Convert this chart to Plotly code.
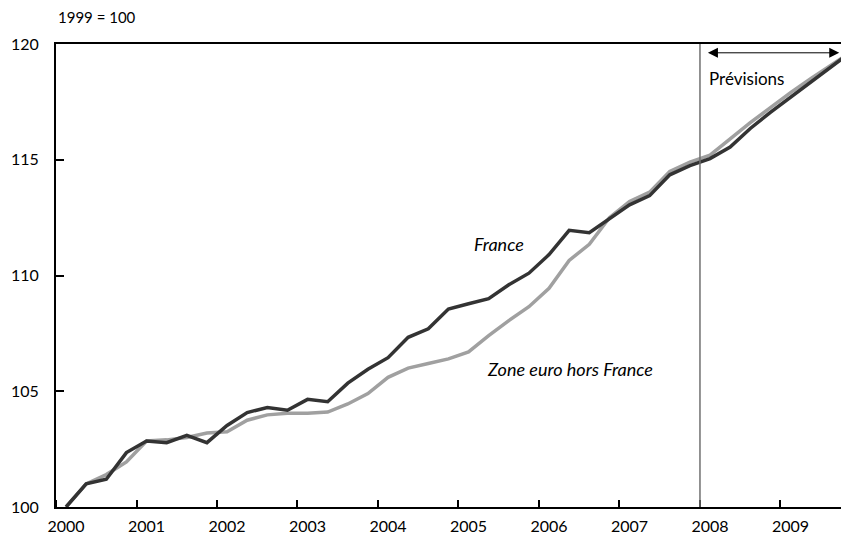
import plotly.graph_objects as go

# quarterly index, 1999 = 100
years = list(range(2000, 2010))
quarters = [0.125, 0.375, 0.625, 0.875]

france = [100.0, 101.0, 101.2, 102.35, 102.85, 102.78, 103.1, 102.78, 103.52, 104.08,
          104.3, 104.18, 104.65, 104.55, 105.35, 105.95, 106.45, 107.33, 107.7, 108.55,
          108.78, 109.0, 109.6, 110.1, 110.9, 111.95, 111.85, 112.45, 113.05, 113.45,
          114.35, 114.75, 115.05, 115.55, 116.35, 117.05, 117.7, 118.35, 119.0, 119.65]

zone_euro = [100.0, 101.0, 101.4, 101.95, 102.85, 102.9, 103.0, 103.2, 103.25, 103.75,
             103.98, 104.05, 104.05, 104.1, 104.45, 104.9, 105.6, 106.0, 106.2, 106.4,
             106.7, 107.4, 108.05, 108.65, 109.45, 110.65, 111.35, 112.5, 113.2, 113.6,
             114.5, 114.9, 115.2, 115.9, 116.6, 117.25, 117.9, 118.5, 119.1, 119.65]

x = [y + q for y in years for q in quarters]

FONT = "Lato"

fig = go.Figure()
fig.add_trace(go.Scatter(x=x, y=zone_euro, mode="lines", name="Zone euro hors France",
                         line=dict(color="#a0a0a0", width=3.5)))
fig.add_trace(go.Scatter(x=x, y=france, mode="lines", name="France",
                         line=dict(color="#333333", width=3.5)))

# forecast boundary
fig.add_shape(type="line", x0=2008, x1=2008, y0=100, y1=120,
              line=dict(color="#707070", width=1.5))

fig.add_annotation(x=2009.73, y=119.62, ax=2008.08, ay=119.62, axref="x", ayref="y",
                   text="", showarrow=True, arrowside="end+start", arrowhead=2,
                   arrowsize=2, arrowwidth=1, arrowcolor="#000000")
fig.add_annotation(x=2008.09, y=118.5, text="Prévisions", showarrow=False,
                   xanchor="left", font=dict(family=FONT, size=17, color="#000000"))
fig.add_annotation(x=2005.5, y=111.38, text="<i>France</i>", showarrow=False,
                   font=dict(family=FONT, size=18, color="#000000"))
fig.add_annotation(x=2006.38, y=105.94, text="<i>Zone euro hors France</i>", showarrow=False,
                   font=dict(family=FONT, size=18, color="#000000"))
fig.add_annotation(x=0, y=1.058, xref="paper", yref="paper", text="1999 = 100",
                   showarrow=False, xanchor="left", yanchor="middle",
                   font=dict(family=FONT, size=15, color="#000000"))

fig.update_layout(
    width=833, height=528,
    margin=dict(l=48, r=0, t=36, b=29, autoexpand=False),
    plot_bgcolor="white", paper_bgcolor="white",
    showlegend=False,
    font=dict(family=FONT, size=16, color="#000000"),
    xaxis=dict(range=[2000, 2009.752], showgrid=False, zeroline=False, automargin=False,
               showline=True, linecolor="#000000", linewidth=2, mirror=True,
               tickvals=[y + 0.125 for y in years], ticktext=[str(y) for y in years],
               ticks="", ticklabelstandoff=4,
               minor=dict(tickvals=years, ticks="inside", ticklen=7,
                          tickwidth=2, tickcolor="#000000")),
    yaxis=dict(range=[100, 120], showgrid=False, zeroline=False, automargin=False,
               showline=True, linecolor="#000000", linewidth=2,
               tickvals=[100, 105, 110, 115, 120], ticks="inside", ticklen=8,
               tickwidth=2, tickcolor="#000000", ticklabelstandoff=12),
)

fig.write_html("out.html")
